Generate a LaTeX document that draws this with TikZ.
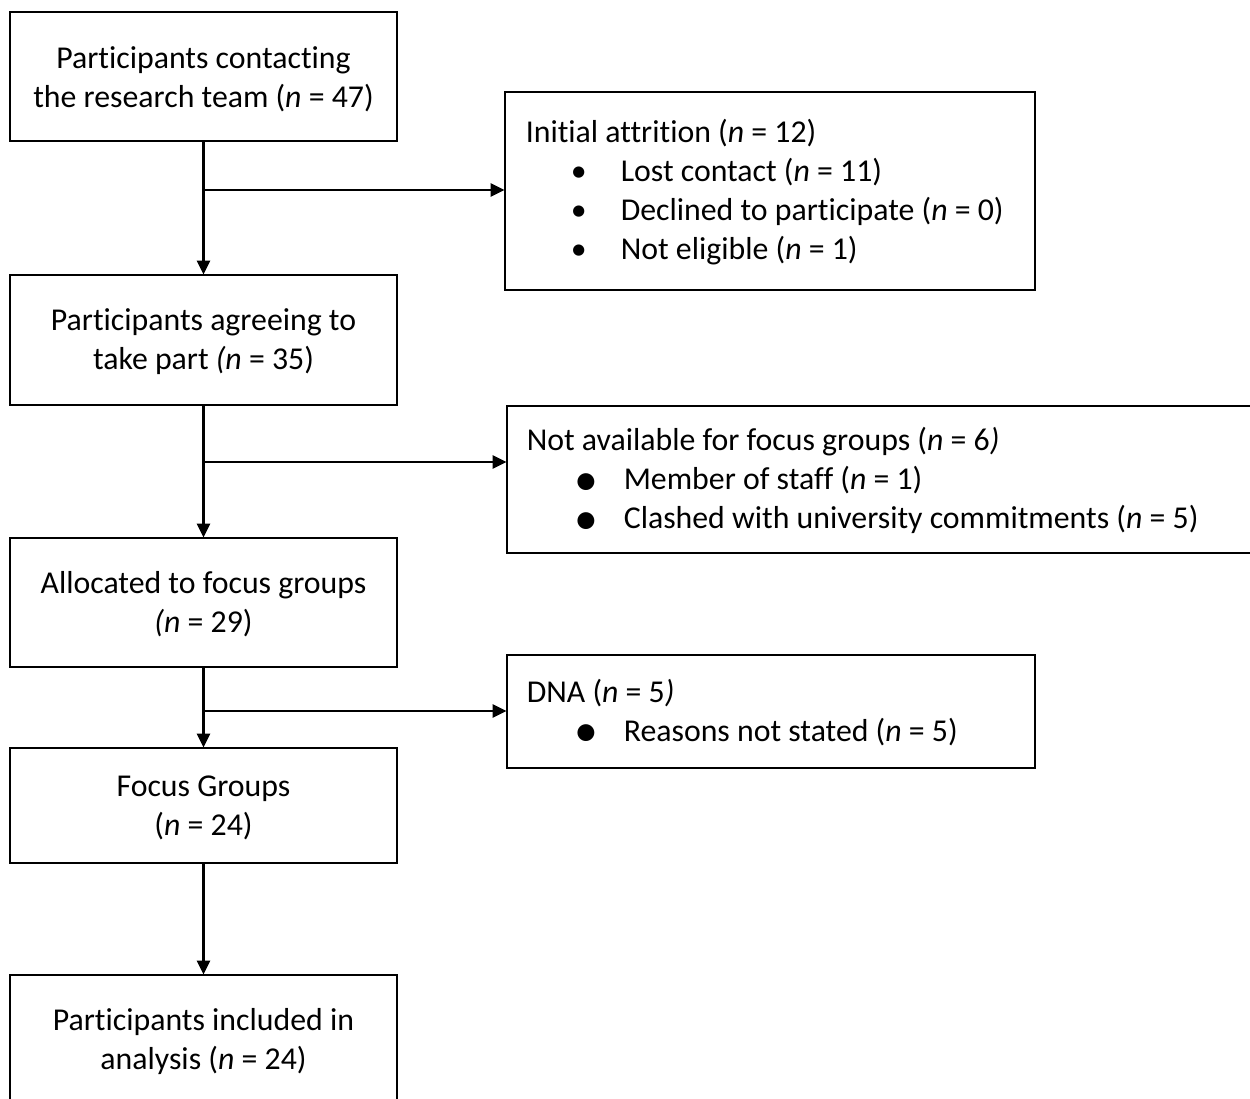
\documentclass[tikz,border=0pt]{standalone}
\usepackage{fontspec}
\setmainfont{Carlito}[Ligatures={NoCommon}]
\usetikzlibrary{arrows.meta}
% list bullets: a small one for the first list, a heavier dot for the others
\newcommand{\smallbul}{\makebox[0pt][l]{\hspace*{45pt}\textbullet}\hspace*{95pt}}
\newcommand{\bigbul}{\makebox[0pt][l]{\hspace*{48pt}\smash{\raisebox{-5.5pt}{\scalebox{1.5}{\textbullet}}}}\hspace*{97pt}}
\begin{document}
\begin{tikzpicture}[x=1pt,y=-1pt,
  txt/.style={font=\fontsize{31.8}{39}\selectfont},
  box/.style={draw, line width=2.8pt, inner sep=0pt},
  leftbox/.style={box, minimum width=387pt},
  boxtext/.style={txt, align=center, inner sep=0pt},
  listtext/.style={txt, anchor=west, align=left, inner sep=0pt},
  arr/.style={line width=2.8pt, -{Triangle[length=14pt,width=13pt]}, shorten >=-1pt}]
\useasboundingbox (0,0) rectangle (1250,1099);

% main column
\node[leftbox, minimum height=129pt] (A) at (203.5,76.5) {};
\node[boxtext] (At) at ([yshift=-3pt]A.center)
  {Participants contacting\\the research team (\textit{n} = 47)};
\node[leftbox, minimum height=130pt] (C) at (203.5,340) {};
\node[boxtext] (Ct) at ([yshift=-2pt]C.center)
  {Participants agreeing to\\take part \textit{(n} = 35)};
\node[leftbox, minimum height=129pt] (E) at (203.5,602.5) {};
\node[boxtext] (Et) at ([yshift=-2pt]E.center)
  {Allocated to focus groups\\\textit{(n} = 29)};
\node[leftbox, minimum height=115pt] (G) at (203.5,805.5) {};
\node[boxtext] (Gt) at ([yshift=-2pt]G.center)
  {Focus Groups\\(\textit{n} = 24)};
\node[leftbox, minimum height=130pt] (H) at (203.5,1040) {};
\node[boxtext] (Ht) at ([yshift=-2pt]H.center)
  {Participants included in\\analysis (\textit{n} = 24)};

% exclusion boxes
\node[box, minimum width=530pt, minimum height=198pt] (B) at (770,191) {};
\node[listtext] (Bt) at ([xshift=22pt,yshift=-1pt]B.west)
  {Initial attrition (\textit{n} = 12)\\
   \smallbul Lost contact (\textit{n} = 11)\\
   \smallbul Declined to participate (\textit{n} = 0)\\
   \smallbul Not eligible (\textit{n} = 1)};

\node[box, minimum width=760pt, minimum height=147pt] (D) at (887,479.5) {};
\node[listtext] (Dt) at ([xshift=21pt,yshift=-1pt]D.west)
  {Not available for focus groups (\textit{n} = 6\textit{)}\\
   \bigbul Member of staff (\textit{n} = 1)\\
   \bigbul Clashed with university commitments (\textit{n} = 5)};

\node[box, minimum width=528pt, minimum height=113pt] (F) at (771,711.5) {};
\node[listtext] (Ft) at ([xshift=21pt,yshift=-1pt]F.west)
  {DNA (\textit{n} = 5\textit{)}\\
   \bigbul Reasons not stated (\textit{n} = 5)};

% junctions on the main line
\coordinate (j1) at (203.5,190);
\coordinate (j2) at (203.5,462);
\coordinate (j3) at (203.5,711);

% vertical flow
\draw[arr] (A.south) -- (C.north);
\draw[arr] (C.south) -- (E.north);
\draw[arr] (E.south) -- (G.north);
\draw[arr] (G.south) -- (H.north);

% side branches
\draw[arr] (j1) -- (j1 -| B.west);
\draw[arr] (j2) -- (j2 -| D.west);
\draw[arr] (j3) -- (j3 -| F.west);
\end{tikzpicture}
\end{document}
